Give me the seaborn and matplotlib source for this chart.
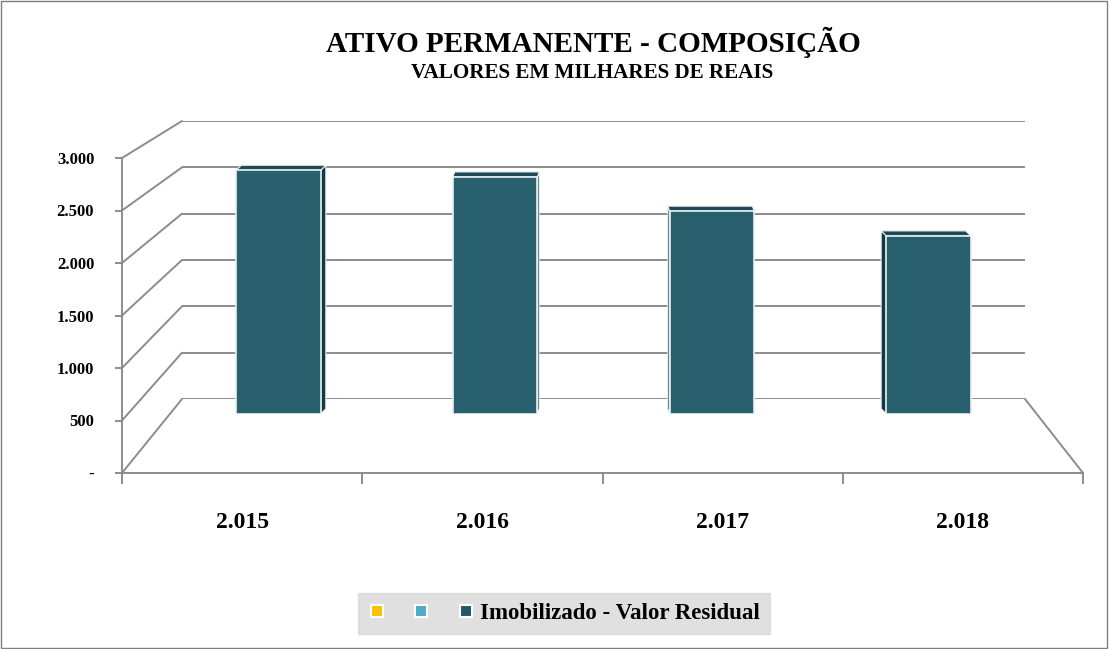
import matplotlib
matplotlib.use("Agg")
import matplotlib.pyplot as plt
from matplotlib.patches import ConnectionPatch, Polygon, Rectangle
from matplotlib.lines import Line2D
from matplotlib.transforms import IdentityTransform
import seaborn as sns

# data
years = ["2.015", "2.016", "2.017", "2.018"]
valores = [2560, 2490, 2130, 1870]
y_ticks = [0, 500, 1000, 1500, 2000, 2500, 3000]
y_labels = ["-", "500", "1.000", "1.500", "2.000", "2.500", "3.000"]
legend_labels = ["", "", "Imobilizado - Valor Residual"]
legend_colors = ["#FFC000", "#4BACC6", "#215868"]

face = "#29606D"
side = "#173840"
top = "#1F4853"
grid_c = "#8C8C8C"

sns.set_theme(style="white")
plt.rcParams["font.family"] = ["Liberation Serif", "DejaVu Serif"]
plt.rcParams["text.color"] = "black"
plt.rcParams["xtick.color"] = "black"
plt.rcParams["ytick.color"] = "black"

W, H = 1109, 649
fig = plt.figure(figsize=(W / 100, H / 100), dpi=100)


def px_axes(x0, x1, ytop, ybot):
    return fig.add_axes([x0 / W, 1 - ybot / H, (x1 - x0) / W, (ybot - ytop) / H])


# back wall
ax_back = px_axes(182, 1025, 121, 399)
ax_back.set_xlim(0, 4)
ax_back.set_ylim(0, 3000)
for v in y_ticks:
    ax_back.axhline(v, color=grid_c, lw=1.4, zorder=0)
ax_back.axis("off")

# front axis (labels, floor)
ax = px_axes(122, 1083, 158, 473)
ax.set_xlim(0, 4)
ax.set_ylim(0, 3000)
ax.patch.set_alpha(0)
for s in ["top", "right"]:
    ax.spines[s].set_visible(False)
for s in ["left", "bottom"]:
    ax.spines[s].set_color(grid_c)
    ax.spines[s].set_linewidth(1.4)
ax.set_yticks(y_ticks)
ax.set_yticklabels(y_labels, fontsize=12, fontweight="bold")
ax.set_xticks([0, 1, 2, 3, 4])
ax.set_xticklabels([])
ax.set_xticks([0.5, 1.5, 2.5, 3.5], minor=True)
ax.set_xticklabels(years, minor=True, fontsize=17, fontweight="bold")
ax.tick_params(axis="y", which="major", length=5, width=1.4, color=grid_c, left=True, pad=15)
ax.tick_params(axis="x", which="major", length=8, width=1.4, color=grid_c, bottom=True, direction="out")
ax.tick_params(axis="x", which="minor", length=0, pad=28)

# perspective lines between front and back
for v in y_ticks:
    fig.add_artist(ConnectionPatch(xyA=(0, v), coordsA=ax.transData,
                                   xyB=(0, v), coordsB=ax_back.transData,
                                   color=grid_c, lw=1.4))
fig.add_artist(ConnectionPatch(xyA=(4, 0), coordsA=ax.transData,
                               xyB=(4, 0), coordsB=ax_back.transData,
                               color=grid_c, lw=1.4))

# bars plane
axb = px_axes(170, 1037, 128.4, 413.8)
axb.patch.set_alpha(0)
sns.barplot(x=years, y=valores, color=face, width=0.39, saturation=1,
            edgecolor="#E8F0F2", linewidth=1.2, ax=axb, zorder=3)
axb.set_xlim(-0.5, 3.5)
axb.set_ylim(0, 3000)
axb.axis("off")

# fake 3D sides/tops
fig.canvas.draw()
mid = axb.transData.transform((1.5, 0))[0]
for p in axb.patches:
    (x0, y0), (x1, y1) = axb.transData.transform([(p.get_x(), 0), (p.get_x() + p.get_width(), p.get_height())])
    xc = (x0 + x1) / 2
    dx = (mid - xc) * 0.016
    dy = 5
    xs = x1 if dx > 0 else x0
    fig.add_artist(Polygon([(xs, y0), (xs, y1), (xs + dx, y1 + dy), (xs + dx, y0 + dy)],
                           closed=True, transform=IdentityTransform(), facecolor=side,
                           edgecolor="#E8F0F2", lw=0.8, zorder=2))
    fig.add_artist(Polygon([(x0, y1), (x1, y1), (x1 + dx, y1 + dy), (x0 + dx, y1 + dy)],
                           closed=True, transform=IdentityTransform(), facecolor=top,
                           edgecolor="#E8F0F2", lw=0.8, zorder=2))
# bring bars front
axb.set_zorder(5)

# titles
fig.text(593 / W, 1 - 42 / H, "ATIVO PERMANENTE - COMPOSIÇÃO", ha="center", va="center",
         fontsize=21, fontweight="bold")
fig.text(592 / W, 1 - 73 / H, "VALORES EM MILHARES DE REAIS", ha="center", va="center",
         fontsize=15.2, fontweight="bold")

# legend
handles = [Line2D([], [], ls="none", marker="s", markersize=8, markerfacecolor=c,
                  markeredgecolor="white", markeredgewidth=1.5) for c in legend_colors]
leg = fig.legend(handles, legend_labels, loc="center", bbox_to_anchor=(564 / W, 1 - 613.5 / H),
                 ncol=3, frameon=True, fancybox=False, prop={"size": 16.5, "weight": "bold"},
                 handlelength=0.7, handletextpad=0.25, columnspacing=1.0, borderpad=0.45,
                 borderaxespad=0)
leg.get_frame().set_facecolor("#D9D9D9")
leg.get_frame().set_edgecolor("#D9D9D9")

# outer border
fig.add_artist(Rectangle((0.001, 0.001), 0.997, 0.997, transform=fig.transFigure,
                         fill=False, edgecolor="#7F7F7F", lw=1))

fig.savefig("out.png", dpi=100)
